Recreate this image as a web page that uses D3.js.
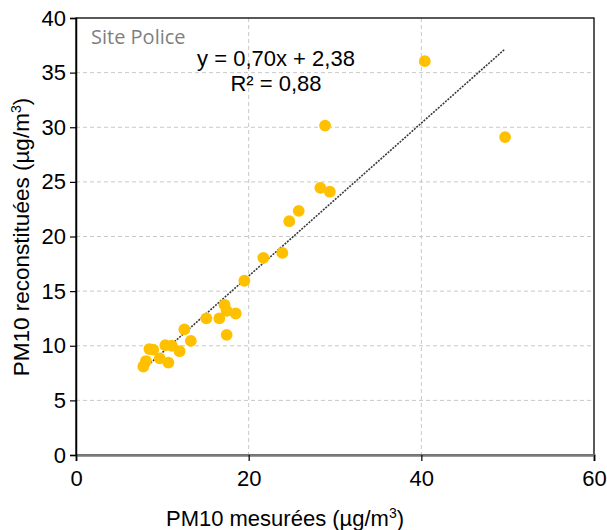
<!DOCTYPE html>
<html>
<head>
<meta charset="utf-8">
<script src="https://cdn.jsdelivr.net/npm/d3@7"></script>
<style>
  html, body { margin: 0; padding: 0; background: #fff; }
  svg { display: block; }
</style>
</head>
<body>
<svg id="chart" width="607" height="530"></svg>
<script>
// Measured PM10 (x) vs reconstituted PM10 (y), µg/m³
const measured = [40.4, 49.7, 28.85, 28.3, 29.4, 25.8, 24.7, 21.7, 23.9, 19.5,
                  17.2, 17.45, 18.5, 16.6, 15.1, 17.45, 12.55, 13.3, 12.0, 10.35,
                  11.1, 8.5, 8.95, 9.7, 10.7, 8.1, 7.8];
const reconstructed = [36.05, 29.1, 30.15, 24.45, 24.1, 22.35, 21.4, 18.05, 18.5, 15.95,
                       13.75, 13.2, 12.95, 12.5, 12.5, 11.0, 11.5, 10.45, 9.5, 10.05,
                       10.0, 9.7, 9.65, 8.85, 8.45, 8.6, 8.1];

// Linear trend: y = slope * x + intercept
const slope = 0.70;
const intercept = 2.38;
const r2 = 0.88;

const xTicks = [0, 20, 40, 60];
const yTicks = [0, 5, 10, 15, 20, 25, 30, 35, 40];

const fmt = v => v.toFixed(2).replace(".", ",");

const margin = { left: 76, right: 13, top: 18, bottom: 75 };
const W = 607, H = 530;
const iw = W - margin.left - margin.right;
const ih = H - margin.top - margin.bottom;

const svg = d3.select("#chart");
const g = svg.append("g").attr("transform", `translate(${margin.left},${margin.top})`);

const x = d3.scaleLinear().domain([0, 60]).range([0, iw]);
const y = d3.scaleLinear().domain([0, 40]).range([ih, 0]);

const font = "'Liberation Sans', Arial, sans-serif";

// Gridlines
g.append("g").selectAll("line").data(yTicks.filter(v => v > 0 && v < 40)).join("line")
  .attr("x1", 0).attr("x2", iw)
  .attr("y1", d => y(d)).attr("y2", d => y(d))
  .attr("stroke", "#c8c8c8").attr("stroke-width", 1).attr("stroke-dasharray", "4,3");
g.append("g").selectAll("line").data(xTicks.filter(v => v > 0 && v < 60)).join("line")
  .attr("y1", 0).attr("y2", ih)
  .attr("x1", d => x(d)).attr("x2", d => x(d))
  .attr("stroke", "#c8c8c8").attr("stroke-width", 1).attr("stroke-dasharray", "4,3");

// Plot border
g.append("rect").attr("x", 0).attr("y", 0).attr("width", iw).attr("height", ih)
  .attr("fill", "none").attr("stroke", "#000").attr("stroke-width", 1.3);

// Axes
const xAxis = g.append("g").attr("transform", `translate(0,${ih})`)
  .call(d3.axisBottom(x).tickValues(xTicks).tickSize(6).tickPadding(9).tickFormat(d3.format("d")));
const yAxis = g.append("g")
  .call(d3.axisLeft(y).tickValues(yTicks).tickSize(6).tickPadding(4).tickFormat(d3.format("d")));

[xAxis, yAxis].forEach(a => {
  a.selectAll("text").attr("font-family", font).attr("font-size", 22).attr("fill", "#000");
  a.selectAll(".tick line").attr("stroke", "#000").attr("stroke-width", 1.2);
});
yAxis.select(".domain").attr("stroke", "#000").attr("stroke-width", 1.5);
xAxis.select(".domain").attr("stroke", "#7a7a7a").attr("stroke-width", 2.4);

// Trendline across the range of measured values
const xMin = d3.min(measured), xMax = d3.max(measured);
g.append("line")
  .attr("x1", x(xMin)).attr("y1", y(slope * xMin + intercept))
  .attr("x2", x(xMax)).attr("y2", y(slope * xMax + intercept))
  .attr("stroke", "#3a3a3a").attr("stroke-width", 1.6).attr("stroke-dasharray", "2,1.2");

// Points
g.append("g").selectAll("circle").data(measured.map((m, i) => [m, reconstructed[i]])).join("circle")
  .attr("cx", d => x(d[0])).attr("cy", d => y(d[1])).attr("r", 5.9)
  .attr("fill", "#FFC000");

// Equation and R²
g.append("text").attr("x", 200).attr("y", 48).attr("text-anchor", "middle")
  .attr("font-family", font).attr("font-size", 22).attr("fill", "#000")
  .text(`y = ${fmt(slope)}x + ${fmt(intercept)}`);
g.append("text").attr("x", 200).attr("y", 73).attr("text-anchor", "middle")
  .attr("font-family", font).attr("font-size", 22).attr("fill", "#000")
  .text("R² = " + fmt(r2));

// Site label
g.append("text").attr("x", 15).attr("y", 26)
  .attr("font-family", "'Open Sans', 'Noto Sans', sans-serif").attr("font-size", 20)
  .attr("fill", "#7f7f7f").text("Site Police");

// Axis titles
const xt = svg.append("text").attr("x", 285).attr("y", 526)
  .attr("text-anchor", "middle").attr("font-family", font).attr("font-size", 22).attr("fill", "#000");
xt.append("tspan").text("PM10 mesurées (µg/m");
xt.append("tspan").attr("font-size", 14).attr("dy", -8).text("3");
xt.append("tspan").attr("dy", 8).text(")");

const yt = svg.append("text")
  .attr("transform", "translate(29,237) rotate(-90)")
  .attr("text-anchor", "middle").attr("font-family", font).attr("font-size", 22.5).attr("fill", "#000");
yt.append("tspan").text("PM10 reconstituées (µg/m");
yt.append("tspan").attr("font-size", 14).attr("dy", -8).text("3");
yt.append("tspan").attr("dy", 8).text(")");
</script>
</body>
</html>
